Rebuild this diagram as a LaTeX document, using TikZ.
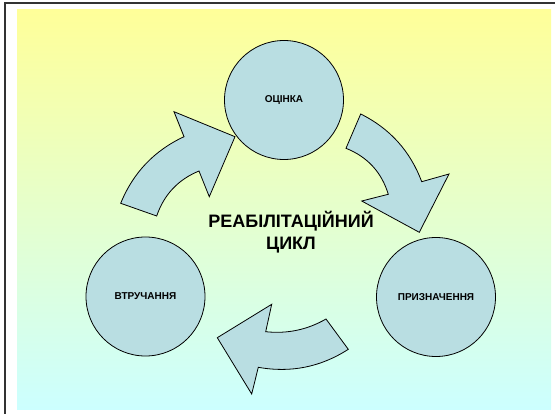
\documentclass[tikz,border=0pt]{standalone}
\usepackage{fontspec}
\setmainfont{Liberation Sans}
\definecolor{bgtop}{RGB}{255,255,153}
\definecolor{bgbot}{RGB}{204,255,255}
\definecolor{shapefill}{RGB}{185,222,226}
\tikzset{
  stage/.style={circle, draw=black, line width=0.8pt, fill=shapefill, minimum size=119pt, inner sep=0pt,
    font=\fontsize{10}{12}\selectfont\bfseries},
  blockarrow/.style={draw=black, line width=0.8pt, fill=shapefill, line join=miter},
  title/.style={align=center, font=\fontsize{18}{22.7}\selectfont\bfseries}
}
\begin{document}
\begin{tikzpicture}[x=1pt,y=-1pt]
\useasboundingbox (0,0) rectangle (555,414);
\fill[white] (0,0) rectangle (555,414);
\shade[top color=bgtop, bottom color=bgbot] (17,9.5) rectangle (551,409.5);
\draw[line width=1.5pt, color=black!80] (5,414) -- (5,3) -- (555,3);

\node[stage] (ocinka) at (284,100) {ОЦІНКА};
\node[stage] (pryzn) at (436,297) {ПРИЗНАЧЕННЯ};
\node[stage] (vtruch) at (145.5,296.5) {ВТРУЧАННЯ};

\node[title] (cycle) at (291,232) {РЕАБІЛІТАЦІЙНИЙ\\ЦИКЛ};

% upper-left arrow (втручання -> оцінка)
\draw[blockarrow] (120.7,203.3) .. controls (133.1,172.8) and (154.2,150.6) .. (184,136.7)
  -- (174,111.7) -- (235,136.7) -- (209.3,196.7) -- (199,171)
  .. controls (178.1,179.6) and (164,194.6) .. (156.7,216) -- cycle;

% right arrow (оцінка -> призначення)
\draw[blockarrow] (360.7,114) .. controls (389.9,128.5) and (410.3,151.1) .. (421.7,181.7)
  -- (449,174) -- (419.3,232.3) -- (361.7,201) -- (388.3,194.3)
  .. controls (381.6,172.2) and (367.5,156.9) .. (346,148.3) -- cycle;

% bottom arrow (призначення -> втручання)
\draw[blockarrow] (326,319) .. controls (307.3,329.8) and (287.2,334) .. (265.7,331.7)
  -- (271.7,304.3) -- (217.3,337.7) -- (251.7,394) -- (258.3,367.3)
  .. controls (290.65,373.1) and (320.65,367.1) .. (348.3,349.3) -- cycle;
\end{tikzpicture}
\end{document}
